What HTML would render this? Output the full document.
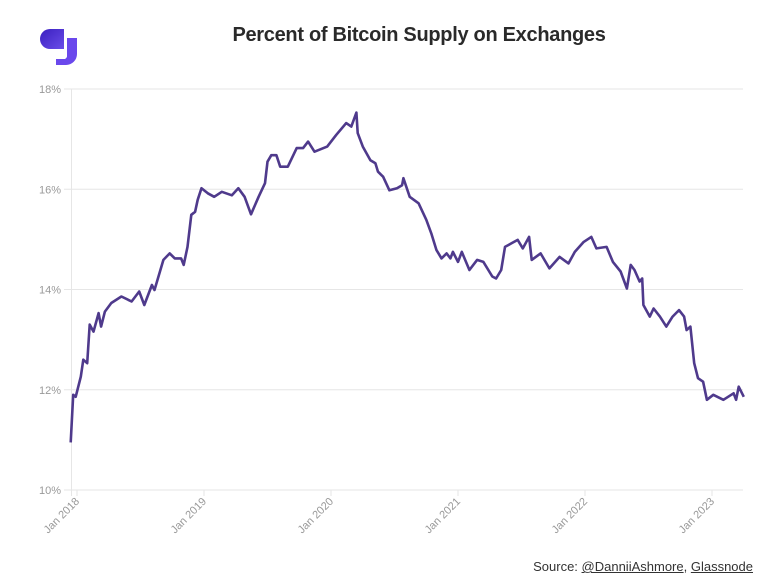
<!DOCTYPE html>
<html><head><meta charset="utf-8"><style>
body{margin:0;background:#fff;font-family:"Liberation Sans",sans-serif}
#wrap{position:relative;width:781px;height:585px;overflow:hidden}
.title{position:absolute;left:0;width:838px;top:24px;text-align:center;font-weight:bold;font-size:20px;letter-spacing:-0.3px;color:#2a2a2a}
.src{position:absolute;right:28px;top:559px;font-size:13px;color:#333}
.src u{text-decoration:underline}
</style></head><body>
<div id="wrap">
<svg style="position:absolute;left:38px;top:27px" width="42" height="40" viewBox="0 0 42 40">
<defs><linearGradient id="lg" x1="0" y1="0" x2="1" y2="1"><stop offset="0" stop-color="#3a1fc0"/><stop offset="1" stop-color="#6a4de8"/></linearGradient></defs>
<path d="M12 2 H26 V22 H12 A10 10 0 0 1 12 2 Z" fill="url(#lg)"/>
<path d="M29 11 H39 V27 A11 11 0 0 1 28 38 H18 V32 H27 A4 4 0 0 0 29 28 Z" fill="#6a48ec"/>
</svg>
<div class="title">Percent of Bitcoin Supply on Exchanges</div>
<svg id="chart" width="781" height="585" style="position:absolute;left:0;top:0"></svg>
<div class="src">Source: <u>@DanniiAshmore</u>, <u>Glassnode</u></div>
</div>
<script>
const dates=[2017.95,2017.97,2017.99,2018.03,2018.05,2018.08,2018.10,2018.13,2018.17,2018.19,2018.22,2018.27,2018.35,2018.43,2018.49,2018.53,2018.59,2018.61,2018.68,2018.73,2018.77,2018.82,2018.84,2018.87,2018.90,2018.93,2018.95,2018.98,2019.03,2019.08,2019.14,2019.22,2019.27,2019.32,2019.37,2019.43,2019.48,2019.50,2019.53,2019.57,2019.60,2019.66,2019.73,2019.78,2019.82,2019.87,2019.97,2020.04,2020.12,2020.16,2020.20,2020.21,2020.25,2020.31,2020.35,2020.37,2020.41,2020.46,2020.52,2020.56,2020.57,2020.62,2020.69,2020.75,2020.79,2020.83,2020.87,2020.91,2020.94,2020.96,2021.00,2021.03,2021.09,2021.15,2021.20,2021.27,2021.30,2021.34,2021.37,2021.42,2021.47,2021.51,2021.56,2021.58,2021.65,2021.72,2021.80,2021.87,2021.92,2021.99,2022.05,2022.09,2022.17,2022.22,2022.28,2022.33,2022.36,2022.39,2022.43,2022.45,2022.46,2022.51,2022.54,2022.59,2022.64,2022.69,2022.74,2022.78,2022.80,2022.83,2022.86,2022.89,2022.93,2022.96,2023.01,2023.09,2023.17,2023.19,2023.21,2023.25];
const values=[10.95,11.9,11.86,12.26,12.6,12.53,13.3,13.16,13.53,13.26,13.56,13.73,13.86,13.76,13.96,13.69,14.09,13.99,14.59,14.72,14.62,14.62,14.49,14.85,15.49,15.55,15.79,16.02,15.92,15.85,15.95,15.88,16.02,15.85,15.5,15.85,16.12,16.55,16.68,16.68,16.45,16.45,16.82,16.82,16.95,16.75,16.85,17.08,17.32,17.25,17.53,17.12,16.85,16.58,16.52,16.35,16.25,15.98,16.02,16.08,16.22,15.85,15.72,15.39,15.12,14.79,14.62,14.72,14.62,14.75,14.55,14.75,14.39,14.59,14.55,14.26,14.22,14.39,14.85,14.92,14.99,14.82,15.05,14.59,14.72,14.42,14.65,14.52,14.75,14.95,15.05,14.82,14.85,14.55,14.36,14.02,14.49,14.39,14.16,14.22,13.69,13.46,13.62,13.46,13.26,13.46,13.59,13.46,13.19,13.26,12.53,12.23,12.16,11.8,11.9,11.8,11.93,11.8,12.06,11.86];
const yTicks=[10,12,14,16,18];
const xTicks=[2018,2019,2020,2021,2022,2023];
const xLabels=["Jan 2018","Jan 2019","Jan 2020","Jan 2021","Jan 2022","Jan 2023"];
const NS="http://www.w3.org/2000/svg";
const svg=document.getElementById('chart');
const X=d=>77+(d-2018)*127;
const Y=v=>490-(v-10)*50.125;
function mk(t,a){const e=document.createElementNS(NS,t);for(const k in a)e.setAttribute(k,a[k]);svg.appendChild(e);return e;}
yTicks.forEach(v=>{
  const g=mk('line',{x1:64,x2:743,y1:Y(v),y2:Y(v),stroke:'#e6e6e6','stroke-width':1});
  
  
  const t=mk('text',{x:61,y:Y(v)+4,'text-anchor':'end','font-size':11,fill:'#999','font-family':'Liberation Sans, sans-serif'});
  t.textContent=v+'%';
  
  
});
const ax=mk('line',{x1:71.5,x2:71.5,y1:Y(18),y2:Y(10)+6,stroke:'#e6e6e6','stroke-width':1});


xTicks.forEach((d,i)=>{
  const x=X(d);
  const tk=mk('line',{x1:x,x2:x,y1:490,y2:496,stroke:'#e6e6e6'});
  
  
  const t=mk('text',{x:x+3,y:502,'text-anchor':'end','font-size':11,fill:'#999','font-family':'Liberation Sans, sans-serif',transform:`rotate(-45 ${x+3} 502)`});
  t.textContent=xLabels[i];
  
  
});
const p=mk('path',{d:dates.map((d,i)=>(i?'L':'M')+X(d).toFixed(1)+' '+Y(values[i]).toFixed(1)).join(''),fill:'none',stroke:'#4f3a8c','stroke-width':2.6,'stroke-linejoin':'round'});


</script>
</body></html>
